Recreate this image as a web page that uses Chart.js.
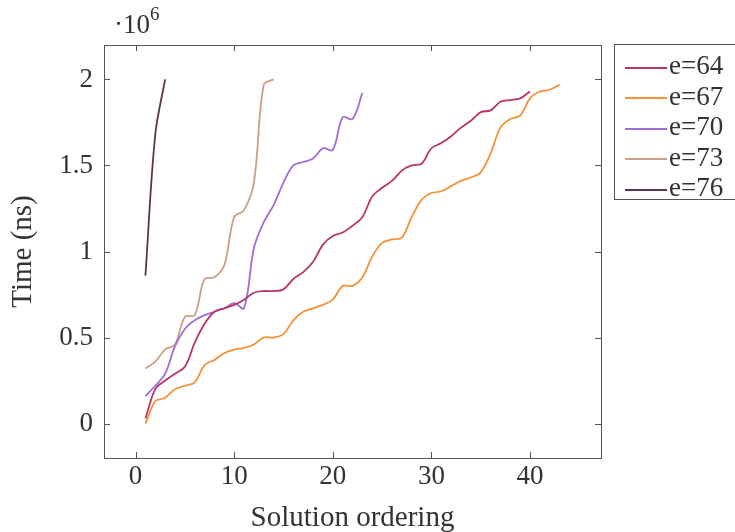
<!DOCTYPE html>
<html>
<head>
<meta charset="utf-8">
<script src="https://cdn.jsdelivr.net/npm/chart.js@4"></script>
<style>
  body { margin: 0; background: #fff; overflow: hidden; font-family: 'Liberation Serif', serif; }
  #wrap { position: relative; width: 735px; height: 532px; overflow: hidden; color: #333; }
  #scale { position: absolute; left: 114px; top: 6px; font-size: 27px; font-family: 'Liberation Serif', serif; }
  #scale sup { font-size: 19px; position: relative; top: -3px; }
  #legend { position: absolute; left: 614px; top: 44px; width: 140px; height: 156px; border: 1px solid #555; box-sizing: border-box; }
  .row { position: absolute; left: 10px; height: 30px; font-size: 27px; line-height: 30px; white-space: nowrap; font-family: 'Liberation Serif', serif; }
  .row span.ln { display: inline-block; width: 42px; height: 0; border-top: 2px solid; vertical-align: middle; margin-right: 2px; }
</style>
</head>
<body>
<div id="wrap">
  <canvas id="chart" width="735" height="532"></canvas>
  <div id="scale">·10<sup>6</sup></div>
  <div id="legend"></div>
</div>
<script>
// times in units of 10^6 ns, one value per solution ordering (1, 2, 3, ...)
const seriesNames = ['e=64', 'e=67', 'e=70', 'e=73', 'e=76'];
const seriesColors = ['#b8336a', '#f39237', '#a06cd5', '#cc9f86', '#5a3550'];

const e64 = [0.03, 0.2, 0.25, 0.29, 0.33, 0.47, 0.58, 0.65, 0.67, 0.69,
  0.72, 0.76, 0.77, 0.77, 0.78, 0.84, 0.88, 0.94, 1.04, 1.09,
  1.11, 1.15, 1.2, 1.32, 1.37, 1.41, 1.47, 1.5, 1.51, 1.6,
  1.63, 1.67, 1.72, 1.76, 1.81, 1.82, 1.87, 1.88, 1.89, 1.93];
const e67 = [0.0, 0.13, 0.15, 0.2, 0.22, 0.24, 0.34, 0.37, 0.41, 0.43,
  0.44, 0.46, 0.5, 0.5, 0.52, 0.6, 0.65, 0.67, 0.69, 0.72,
  0.8, 0.8, 0.85, 0.97, 1.05, 1.07, 1.08, 1.2, 1.3, 1.34,
  1.35, 1.38, 1.41, 1.43, 1.46, 1.57, 1.72, 1.77, 1.79, 1.89,
  1.93, 1.94, 1.97];
const e70 = [0.16, 0.22, 0.29, 0.45, 0.55, 0.6, 0.63, 0.65, 0.67, 0.7,
  0.67, 1.02, 1.17, 1.27, 1.4, 1.5, 1.52, 1.54, 1.6, 1.59,
  1.78, 1.77, 1.92];
const e73 = [0.32, 0.36, 0.43, 0.46, 0.62, 0.63, 0.84, 0.85, 0.92, 1.2,
  1.24, 1.4, 1.97, 2.0];
const e76 = [0.86, 1.68, 2.0];

const allSeries = [e64, e67, e70, e73, e76];

const xTicks = [0, 10, 20, 30, 40];
const yTicks = [0, 0.5, 1, 1.5, 2];

Chart.defaults.font.family = 'Liberation Serif';
const tickFont = { family: 'Liberation Serif', size: 27 };
const titleFont = { family: 'Liberation Serif', size: 29 };

// pgfplots style box with inward tick marks
const framePlugin = {
  id: 'frame',
  afterDraw(chart) {
    const { ctx, chartArea: a, scales } = chart;
    ctx.save();
    ctx.strokeStyle = '#555';
    ctx.lineWidth = 1;
    ctx.strokeRect(a.left + 0.5, a.top + 0.5, a.right - a.left, a.bottom - a.top);
    ctx.beginPath();
    xTicks.forEach(v => {
      const x = Math.round(scales.x.getPixelForValue(v)) + 0.5;
      ctx.moveTo(x, a.bottom); ctx.lineTo(x, a.bottom - 6);
      ctx.moveTo(x, a.top); ctx.lineTo(x, a.top + 6);
    });
    yTicks.forEach(v => {
      const y = Math.round(scales.y.getPixelForValue(v)) + 0.5;
      ctx.moveTo(a.left, y); ctx.lineTo(a.left + 6, y);
      ctx.moveTo(a.right, y); ctx.lineTo(a.right - 6, y);
    });
    ctx.stroke();
    ctx.restore();
  }
};

new Chart(document.getElementById('chart'), {
  type: 'line',
  data: {
    datasets: allSeries.map((vals, i) => ({
      label: seriesNames[i],
      data: vals.map((v, k) => ({ x: k + 1, y: v })),
      borderColor: seriesColors[i],
      backgroundColor: seriesColors[i],
      borderWidth: 1.8,
      pointRadius: 0,
      tension: 0.35
    }))
  },
  options: {
    responsive: false,
    animation: false,
    layout: { padding: { top: 45, right: 134, left: 0, bottom: 0 } },
    plugins: {
      legend: { display: false },
      tooltip: { enabled: false }
    },
    scales: {
      x: {
        type: 'linear',
        min: -3.2,
        max: 47.2,
        grid: { display: false, drawTicks: false },
        border: { display: false },
        ticks: { font: tickFont, color: '#333', padding: 3, callback: v => String(v) },
        afterBuildTicks: s => { s.ticks = xTicks.map(v => ({ value: v })); },
        afterFit: s => { s.height = 74; },
        title: { display: true, text: 'Solution ordering', font: titleFont, color: '#333', padding: { top: 0, bottom: -4 } }
      },
      y: {
        min: -0.2,
        max: 2.2,
        grid: { display: false, drawTicks: false },
        border: { display: false },
        ticks: { font: tickFont, color: '#333', padding: 11, callback: v => String(v) },
        afterBuildTicks: s => { s.ticks = yTicks.map(v => ({ value: v })); },
        afterFit: s => { s.width = 104; },
        title: { display: true, text: 'Time (ns)', font: titleFont, color: '#333', padding: { top: 6, bottom: 0 } }
      }
    }
  },
  plugins: [framePlugin]
});

// legend as real text, built from the same arrays
const legend = document.getElementById('legend');
seriesNames.forEach((name, i) => {
  const row = document.createElement('div');
  row.className = 'row';
  row.style.top = (5 + i * 30.5) + 'px';
  row.innerHTML = '<span class="ln" style="border-color:' + seriesColors[i] + '"></span>' + name;
  legend.appendChild(row);
});
</script>
</body>
</html>
